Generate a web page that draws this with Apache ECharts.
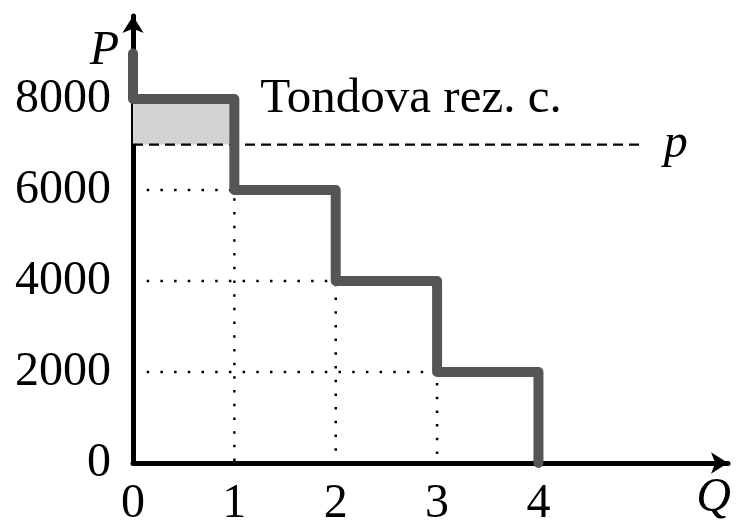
<!DOCTYPE html>
<html>
<head>
<meta charset="utf-8">
<script src="https://cdn.jsdelivr.net/npm/echarts@6/dist/echarts.min.js"></script>
<style>
html,body{margin:0;padding:0;background:#fff;}
#chart{width:736px;height:521px;}
</style>
</head>
<body>
<div id="chart"></div>
<script>
// Step demand curve (Q, P)
var curveQ = [0, 0, 1, 1, 2, 2, 3, 3, 4, 4];
var curveP = [9000, 8000, 8000, 6000, 6000, 4000, 4000, 2000, 2000, 0];
// Market price line
var priceQ = [0, 5];
var priceP = [7000, 7000];
var priceLabel = 'p';
// Reservation price annotation
var reservationQ = 1;
var reservationP = 8000;
var reservationText = 'Tondova rez. c.';
// Surplus area (Q from 0 to 1, P from 7000 to 8000)
var surplusQ = [0, 1];
var surplusP = [7000, 8000];
// Dotted guide lines
var guideLines = [
  [[0, 6000], [1, 6000], [1, 0]],
  [[0, 4000], [2, 4000], [2, 0]],
  [[0, 2000], [3, 2000], [3, 0]]
];
// Tick labels
var xTicks = [0, 1, 2, 3, 4];
var yTicks = [0, 2000, 4000, 6000, 8000];

var FONT = 'Liberation Serif';

var chart = echarts.init(document.getElementById('chart'), null, {renderer: 'canvas'});

var series = [];
series.push({
  type: 'line', data: [], z: 1, silent: true,
  markArea: {
    silent: true,
    itemStyle: {color: '#d3d3d3', opacity: 1},
    data: [[{coord: [surplusQ[0], surplusP[0]]}, {coord: [surplusQ[1], surplusP[1]]}]]
  }
});
guideLines.forEach(function (g) {
  series.push({
    type: 'line', data: g, z: 2, symbol: 'none', silent: true,
    lineStyle: {color: '#000', width: 2.5, type: [2.5, 11.2]}
  });
});
series.push({
  type: 'line', data: priceQ.map(function (q, i) { return [q, priceP[i]]; }),
  z: 3, symbol: 'none', silent: true,
  lineStyle: {color: '#000', width: 2.2, type: [10, 6]},
  markPoint: {
    silent: true, symbol: 'circle', symbolSize: 0,
    label: {show: true, position: 'right', distance: 24, formatter: priceLabel,
      fontFamily: FONT, fontSize: 48, fontStyle: 'italic', color: '#000'},
    data: [{coord: [priceQ[priceQ.length - 1], priceP[priceP.length - 1]]}]
  }
});
series.push({
  type: 'line', data: curveQ.map(function (q, i) { return [q, curveP[i]]; }),
  z: 5, symbol: 'none', silent: true,
  lineStyle: {color: '#555555', width: 10, join: 'round', cap: 'round'},
  markPoint: {
    silent: true, symbol: 'circle', symbolSize: 0,
    label: {show: true, position: 'right', distance: 26, formatter: reservationText,
      fontFamily: FONT, fontSize: 49, color: '#000'},
    data: [{coord: [reservationQ, reservationP]}]
  }
});

chart.setOption({
  animation: false,
  backgroundColor: '#fff',
  grid: {left: 133, right: 8, top: 16, bottom: 58, containLabel: false, outerBoundsMode: 'none'},
  xAxis: {
    type: 'value', min: 0, max: 5.87, interval: 1,
    splitLine: {show: false},
    axisTick: {show: false},
    axisLine: {show: true, lineStyle: {color: '#000', width: 5}, symbol: ['none', 'arrow'], symbolSize: [16, 17]},
    axisLabel: {
      margin: 17, fontFamily: FONT, fontSize: 48, color: '#000',
      formatter: function (v) { return xTicks.indexOf(v) >= 0 ? String(v) : ''; }
    },
    name: 'Q', nameLocation: 'end', nameGap: 3,
    nameTextStyle: {fontFamily: FONT, fontSize: 48, fontStyle: 'italic', color: '#000', align: 'right', verticalAlign: 'top', padding: [11, 0, 0, 0]}
  },
  yAxis: {
    type: 'value', min: 0, max: 9825, interval: 2000,
    splitLine: {show: false},
    axisTick: {show: false},
    axisLine: {show: true, lineStyle: {color: '#000', width: 5}, symbol: ['none', 'arrow'], symbolSize: [16, 17]},
    axisLabel: {
      margin: 22, fontFamily: FONT, fontSize: 48, color: '#000',
      formatter: function (v) { return yTicks.indexOf(v) >= 0 ? String(v) : ''; }
    },
    name: 'P', nameLocation: 'end', nameGap: -12,
    nameTextStyle: {fontFamily: FONT, fontSize: 48, fontStyle: 'italic', color: '#000', align: 'right', verticalAlign: 'top', padding: [0, 14, 0, 0]}
  },
  series: series
});
</script>
</body>
</html>
